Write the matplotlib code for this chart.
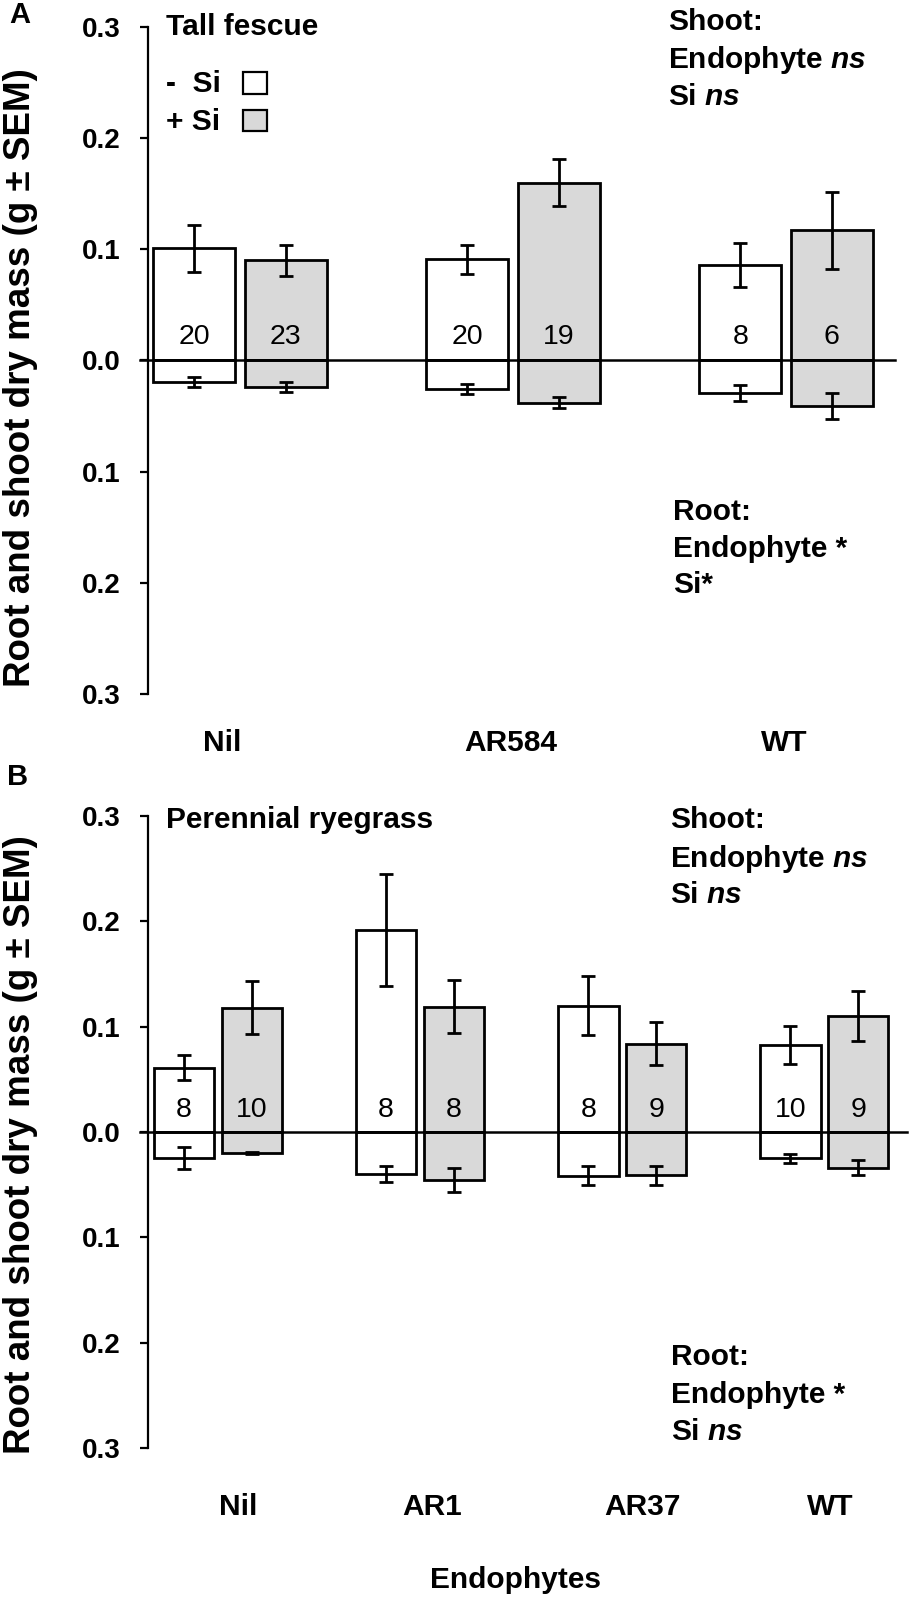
import matplotlib
matplotlib.use("Agg")
import matplotlib.pyplot as plt
import numpy as np
from matplotlib.patches import Rectangle
from matplotlib.ticker import FuncFormatter

plt.rcParams["font.family"] = ["Liberation Sans", "DejaVu Sans"]
plt.rcParams["mathtext.fontset"] = "custom"
plt.rcParams["mathtext.rm"] = "Liberation Sans:bold"
plt.rcParams["mathtext.it"] = "Liberation Sans:italic:bold"

# panel A: tall fescue
a_groups = ["Nil", "AR584", "WT"]
a_shoot_minus = [0.101, 0.091, 0.086]
a_shoot_minus_sem = [0.021, 0.013, 0.020]
a_shoot_plus = [0.090, 0.160, 0.117]
a_shoot_plus_sem = [0.014, 0.021, 0.035]
a_root_minus = [0.019, 0.026, 0.029]
a_root_minus_sem = [0.0045, 0.0045, 0.007]
a_root_plus = [0.024, 0.038, 0.041]
a_root_plus_sem = [0.0045, 0.005, 0.0115]
a_n_minus = [20, 20, 8]
a_n_plus = [23, 19, 6]

# panel B: perennial ryegrass
b_groups = ["Nil", "AR1", "AR37", "WT"]
b_shoot_minus = [0.061, 0.192, 0.120, 0.083]
b_shoot_minus_sem = [0.012, 0.053, 0.028, 0.018]
b_shoot_plus = [0.118, 0.119, 0.084, 0.110]
b_shoot_plus_sem = [0.025, 0.025, 0.020, 0.024]
b_root_minus = [0.025, 0.040, 0.0415, 0.025]
b_root_minus_sem = [0.0105, 0.0075, 0.009, 0.004]
b_root_plus = [0.020, 0.0455, 0.041, 0.034]
b_root_plus_sem = [0.001, 0.0115, 0.009, 0.007]
b_n_minus = [8, 8, 8, 10]
b_n_plus = [10, 8, 9, 9]

W, H = 911, 1601
GREY = "#d9d9d9"


def fx(x):
    return x / W


def fy(y):
    return 1 - y / H


fig = plt.figure(figsize=(W / 100, H / 100), dpi=100)


def draw_panel(rect, groups, sm, sm_e, sp, sp_e, rm, rm_e, rp, rp_e, n_m, n_p,
               xlim, label_shift, label_y):
    ax = fig.add_axes(rect)
    x = np.arange(len(groups))
    w = 0.30
    off = 0.168
    for xs, shoot, s_err, root, r_err, col in [
        (x - off, sm, sm_e, rm, rm_e, "white"),
        (x + off, sp, sp_e, rp, rp_e, GREY),
    ]:
        ax.bar(xs, shoot, width=w, color=col, edgecolor="black", linewidth=2, zorder=2)
        ax.bar(xs, -np.array(root), width=w, color=col, edgecolor="black", linewidth=2, zorder=2)
        ax.errorbar(xs, shoot, yerr=s_err, fmt="none", ecolor="black", elinewidth=2,
                    capsize=5, capthick=2, zorder=3)
        ax.errorbar(xs, -np.array(root), yerr=r_err, fmt="none", ecolor="black", elinewidth=2,
                    capsize=5, capthick=2, zorder=3)
    for xi, nm, npl in zip(x, n_m, n_p):
        ax.text(xi - off, 0.021, str(nm), ha="center", va="center", fontsize=20.5, zorder=4)
        ax.text(xi + off, 0.021, str(npl), ha="center", va="center", fontsize=20.5, zorder=4)
    ax.axhline(0, xmin=-0.011, xmax=1, color="black", linewidth=1.8, clip_on=False, zorder=4)

    ax.set_xlim(*xlim)
    ax.set_ylim(-0.3, 0.3)
    ax.set_yticks([-0.3, -0.2, -0.1, 0.0, 0.1, 0.2, 0.3])
    ax.yaxis.set_major_formatter(FuncFormatter(lambda v, p: f"{abs(v):.1f}"))
    for lab in ax.get_yticklabels():
        lab.set_fontweight("bold")
    ax.tick_params(axis="y", direction="out", length=6, width=1.6, labelsize=20, pad=14)
    ax.set_xticks([])
    for s in ["top", "right", "bottom"]:
        ax.spines[s].set_visible(False)
    ax.spines["left"].set_linewidth(1.6)

    # group labels under the axis
    for xi, g, sh in zip(x, groups, label_shift):
        ax.text(xi + sh, label_y, g, ha="center", va="center", fontsize=21.5,
                fontweight="bold", clip_on=False)
    return ax


ax_a = draw_panel([fx(148), fy(694), fx(895) - fx(148), fy(27) - fy(694)],
                  a_groups, a_shoot_minus, a_shoot_minus_sem, a_shoot_plus, a_shoot_plus_sem,
                  a_root_minus, a_root_minus_sem, a_root_plus, a_root_plus_sem,
                  a_n_minus, a_n_plus, (-0.337, 2.399), [-0.066, -0.01, -0.007],
                  -0.3 - 49 / 1110)

ax_b = draw_panel([fx(148), fy(1448), fx(907) - fx(148), fy(816) - fy(1448)],
                  b_groups, b_shoot_minus, b_shoot_minus_sem, b_shoot_plus, b_shoot_plus_sem,
                  b_root_minus, b_root_minus_sem, b_root_plus, b_root_plus_sem,
                  b_n_minus, b_n_plus, (-0.347, 3.41), [0.1, 0.06, 0.1, 0.03],
                  -0.3 - 59 / 1055)

# panel letters, titles, y labels
fig.text(fx(20), fy(15), "A", ha="center", va="center", fontsize=21, fontweight="bold")
fig.text(fx(18), fy(777), "B", ha="center", va="center", fontsize=21, fontweight="bold")
fig.text(fx(166), fy(27), "Tall fescue", ha="left", va="center", fontsize=21.5, fontweight="bold")
fig.text(fx(166), fy(820), "Perennial ryegrass", ha="left", va="center", fontsize=21.5,
         fontweight="bold")
ylab = "Root and shoot dry mass (g \u00b1 SEM)"
fig.text(fx(21), fy(378), ylab, rotation=90, ha="center", va="center", fontsize=26.5,
         fontweight="bold")
fig.text(fx(21), fy(1145), ylab, rotation=90, ha="center", va="center", fontsize=26.5,
         fontweight="bold")
fig.text(fx(516), fy(1580), "Endophytes", ha="center", va="center", fontsize=21.5,
         fontweight="bold")

# legend
fig.text(fx(166), fy(84), "-  Si", ha="left", va="center", fontsize=21.5, fontweight="bold")
fig.text(fx(166), fy(122), "+ Si", ha="left", va="center", fontsize=21.5, fontweight="bold")
fig.add_artist(Rectangle((fx(243), fy(94)), 24 / W, 22 / H, transform=fig.transFigure,
                         facecolor="white", edgecolor="black", linewidth=1.6))
fig.add_artist(Rectangle((fx(243), fy(131)), 24 / W, 21 / H, transform=fig.transFigure,
                         facecolor=GREY, edgecolor="black", linewidth=1.6))

# statistics annotations
stats = [
    (668, [30, 68, 105], ["Shoot:", r"Endophyte $\mathit{ns}$", r"Si $\mathit{ns}$"]),
    (673, [520, 557, 593], ["Root:", "Endophyte *", "Si*"]),
    (670, [828, 867, 903], ["Shoot:", r"Endophyte $\mathit{ns}$", r"Si $\mathit{ns}$"]),
    (671, [1365, 1403, 1440], ["Root:", "Endophyte *", r"Si $\mathit{ns}$"]),
]
for x0, ys, lines in stats:
    for y0, line in zip(ys, lines):
        fig.text(fx(x0), fy(y0), line, ha="left", va="baseline", fontsize=21.5, fontweight="bold")

fig.savefig("out.png", dpi=100)
